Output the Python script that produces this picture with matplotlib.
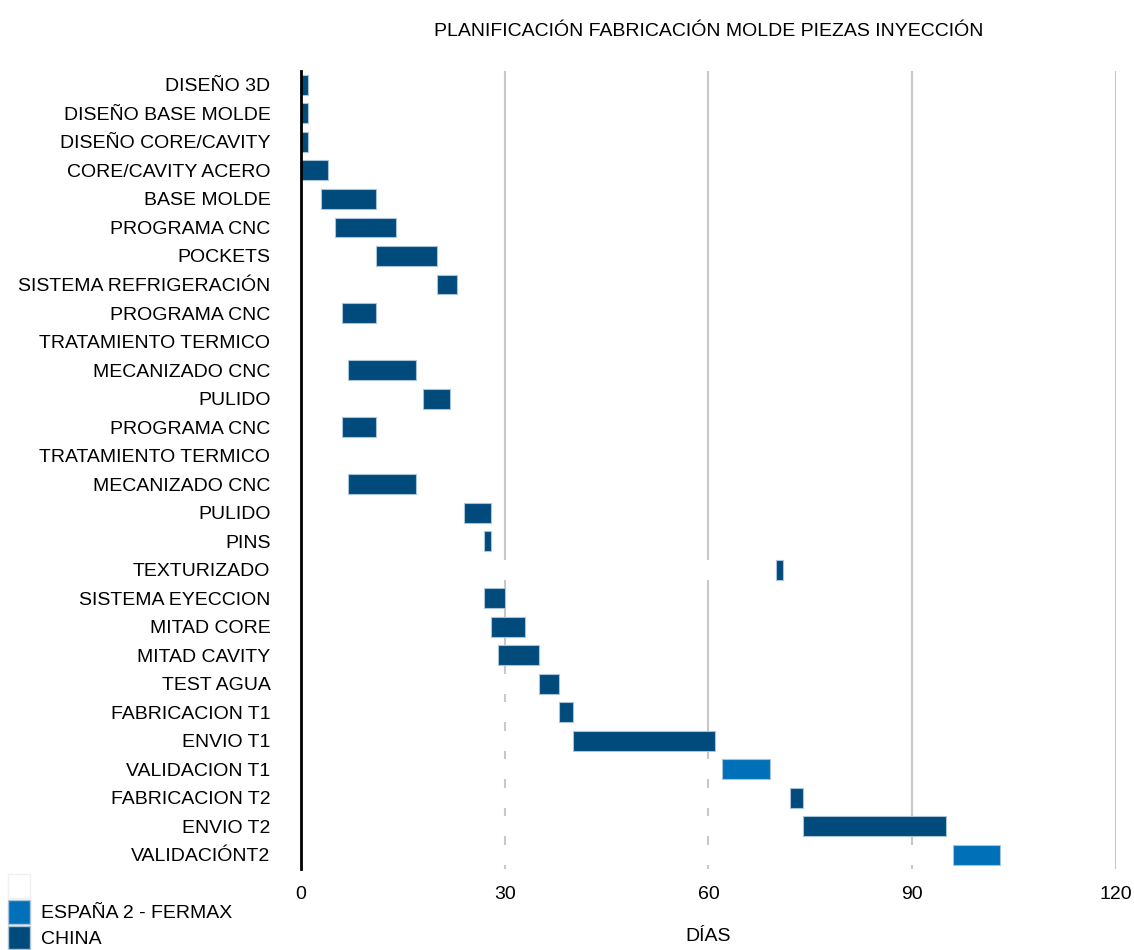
import matplotlib.pyplot as plt
from matplotlib.patches import Patch

plt.rcParams['font.family'] = ['Liberation Sans Narrow', 'Liberation Sans', 'DejaVu Sans']

# ── Data ──────────────────────────────────────────────────────────────────────
tasks = ["DISEÑO 3D", "DISEÑO BASE MOLDE", "DISEÑO CORE/CAVITY", "CORE/CAVITY ACERO",
         "BASE MOLDE", "PROGRAMA CNC", "POCKETS", "SISTEMA REFRIGERACIÓN",
         "PROGRAMA CNC", "TRATAMIENTO TERMICO", "MECANIZADO CNC", "PULIDO",
         "PROGRAMA CNC", "TRATAMIENTO TERMICO", "MECANIZADO CNC", "PULIDO",
         "PINS", "TEXTURIZADO", "SISTEMA EYECCION", "MITAD CORE", "MITAD CAVITY",
         "TEST AGUA", "FABRICACION T1", "ENVIO T1", "VALIDACION T1",
         "FABRICACION T2", "ENVIO T2", "VALIDACIÓNT2"]
start = [0, 0, 0, 0, 3, 5, 11, 20, 6, 0, 7, 18, 6, 0, 7, 24, 27, 70, 27, 28, 29,
         35, 38, 40, 62, 72, 74, 96]
duration = [1, 1, 1, 4, 8, 9, 9, 3, 5, 0, 10, 4, 5, 0, 10, 4, 1, 1, 3, 5, 6,
            3, 2, 21, 7, 2, 21, 7]
site = ["CHINA"] * 24 + ["ESPAÑA 2 - FERMAX"] + ["CHINA"] * 2 + ["ESPAÑA 2 - FERMAX"]

COLORS = {"CHINA": "#004a7c", "ESPAÑA 2 - FERMAX": "#0071b8"}

# ── Figure ────────────────────────────────────────────────────────────────────
fig = plt.figure(figsize=(11.34, 9.5), dpi=100, facecolor="white")
ax = fig.add_axes([0.2654, 0.0853, 0.7186, 0.8403])

y = list(range(len(tasks)))
ax.barh(y, start, height=0.7, color="white", zorder=2)
ax.barh(y, duration, left=start, height=0.7,
        color=[COLORS[s] for s in site], edgecolor="#a9c4da", linewidth=0.8, zorder=3)

ax.set_ylim(len(tasks) - 0.5, -0.5)
ax.set_xlim(0, 120)
ax.set_xticks([0, 30, 60, 90, 120])
ax.set_yticks(y)
ax.set_yticklabels(tasks, fontsize=14)
ax.tick_params(axis="y", length=0, pad=22)
ax.tick_params(axis="x", length=0, labelsize=14, pad=12)

ax.grid(axis="x", color="#c8c8c8", linewidth=1.5, zorder=1)
ax.set_axisbelow(True)
for s in ["top", "right", "bottom"]:
    ax.spines[s].set_visible(False)
ax.spines["left"].set_linewidth(2)
ax.spines["left"].set_color("black")
ax.spines["left"].set_zorder(5)

ax.set_title("PLANIFICACIÓN FABRICACIÓN MOLDE PIEZAS INYECCIÓN", fontsize=14, pad=25)
ax.set_xlabel("DÍAS", fontsize=14, labelpad=18)

handles = [Patch(facecolor="white", edgecolor="#f0f0f0"),
           Patch(facecolor=COLORS["ESPAÑA 2 - FERMAX"], edgecolor="#a9c4da"),
           Patch(facecolor=COLORS["CHINA"], edgecolor="#a9c4da")]
fig.legend(handles, ["", "ESPAÑA 2 - FERMAX", "CHINA"], loc="upper left",
           bbox_to_anchor=(-0.003, 0.092), frameon=False, fontsize=14,
           handlelength=1.1, handleheight=1.5, labelspacing=0.1, handletextpad=0.6,
           borderaxespad=0.2)

fig.savefig("out.png", dpi=100, facecolor="white")
